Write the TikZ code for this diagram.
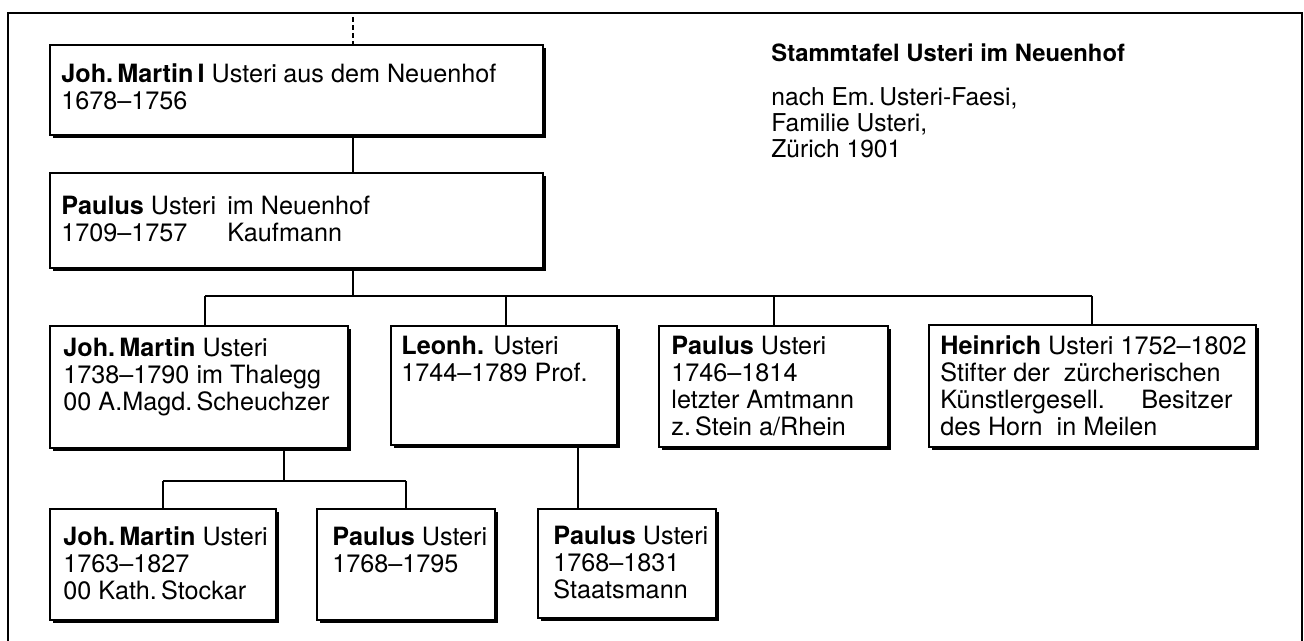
\documentclass[tikz,border=0pt]{standalone}
\usepackage{fontspec}
\setmainfont{TeX Gyre Heros}
\usetikzlibrary{fit,shadows}
\begin{document}
\begin{tikzpicture}[x=0.5pt,y=-0.5pt,
  stbox/.style={draw=black,line width=0.75pt,fill=white,inner sep=0pt,outer sep=0pt,
    drop shadow={shadow xshift=1.3pt,shadow yshift=-1.3pt,opacity=1,fill=black}},
  txt/.style={anchor=base west,inner sep=0pt,align=left,font=\fontsize{12.6}{13.5}\selectfont},
  conn/.style={line width=0.75pt},
  frame/.style={line width=1pt}]
\useasboundingbox (0,0) rectangle (1304,641);
% frame
\draw[frame] (8,641) -- (8,13) -- (1302,13) -- (1302,641);
% boxes
\node[stbox,fit={(50,45) (543,135)}] (b1) {};
\node[stbox,fit={(50,173) (543,268)}] (b2) {};
\node[stbox,fit={(50,326) (348,448)}] (b3) {};
\node[stbox,fit={(391,326) (617,445)}] (b4) {};
\node[stbox,fit={(659,326) (888,447)}] (b5) {};
\node[stbox,fit={(929,325) (1256,447)}] (b6) {};
\node[stbox,fit={(50,509) (276,620)}] (b7) {};
\node[stbox,fit={(317,509) (495,620)}] (b8) {};
\node[stbox,fit={(538,509) (716,618)}] (b9) {};
% texts (anchored at the baseline of their last line)
\node[txt] (t1) at (61,110) {\makebox[111pt][l]{\textbf{Joh.\,Martin\,I} Usteri}aus dem Neuenhof\\1678–1756};
\node[txt] (t2) at (61,242) {\makebox[83pt][l]{\textbf{Paulus} Usteri}im Neuenhof\\\makebox[83pt][l]{1709–1757}Kaufmann};
\node[txt] (t3) at (63,410) {\textbf{Joh.\,Martin} Usteri\\1738–1790 im Thalegg\\00 A.Magd.\,Scheuchzer};
\node[txt] (t4) at (401,381) {\textbf{Leonh.} Usteri\\1744–1789 Prof.};
\node[txt] (t5) at (671,435) {\textbf{Paulus} Usteri\\1746–1814\\letzter Amtmann\\z.\,Stein a/Rhein};
\node[txt] (t6) at (940,435) {\textbf{Heinrich} Usteri 1752–1802\\Stifter der~ zürcherischen\\\makebox[100.5pt][l]{Künstlergesell.}Besitzer\\des Horn~ in Meilen};
\node[txt] (t7) at (63,599) {\textbf{Joh.\,Martin} Usteri\\1763–1827\\00 Kath.\,Stockar};
\node[txt] (t8) at (332,572) {\textbf{Paulus} Usteri\\1768–1795};
\node[txt] (t9) at (553,598) {\textbf{Paulus} Usteri\\1768–1831\\Staatsmann};
\node[txt,font=\fontsize{11.9}{13}\selectfont\bfseries] (title) at (771,62) {Stammtafel Usteri im Neuenhof};
\node[txt,font=\fontsize{12.3}{13.2}\selectfont] (src) at (771,158) {nach Em.\,Usteri-Faesi,\\Familie Usteri,\\Zürich 1901};
% connectors
\coordinate (top) at (353,17);
\coordinate (j1) at (353,296);
\coordinate (d3) at (205,296);
\coordinate (d4) at (506,296);
\coordinate (d5) at (774,296);
\coordinate (d6) at (1092,296);
\coordinate (j3) at (284,481);
\coordinate (d7) at (163,481);
\coordinate (d8) at (406,481);
\coordinate (j4) at (578,481);
\draw[conn,dash pattern=on 2.5pt off 1.5pt] (top) -- (top |- b1.north);
\draw[conn] (b1.south -| top) -- (b2.north -| top);
\draw[conn] (b2.south -| j1) -- (j1);
\draw[conn] (d3) -- (d6);
\draw[conn] (d3) -- (d3 |- b3.north);
\draw[conn] (d4) -- (d4 |- b4.north);
\draw[conn] (d5) -- (d5 |- b5.north);
\draw[conn] (d6) -- (d6 |- b6.north);
\draw[conn] (b3.south -| j3) -- (j3);
\draw[conn] (d7) -- (d8);
\draw[conn] (d7) -- (d7 |- b7.north);
\draw[conn] (d8) -- (d8 |- b8.north);
\draw[conn] (b4.south -| j4) -- (b9.north -| j4);
\end{tikzpicture}
\end{document}
